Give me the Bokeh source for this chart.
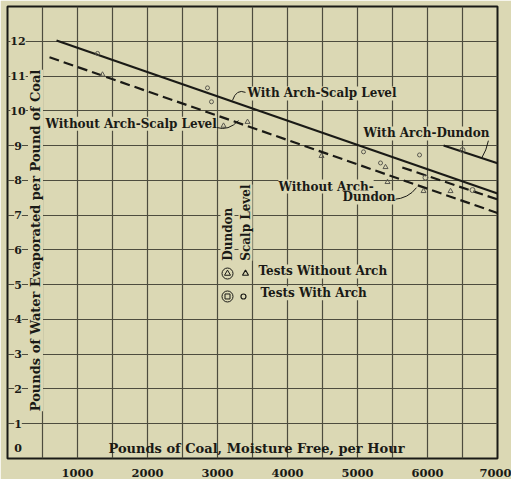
import numpy as np
from bokeh.plotting import figure
from bokeh.models import Label, FixedTicker, Range1d
from bokeh.embed import file_html
from bokeh.resources import INLINE

# --- data ---------------------------------------------------------------
x_ticks = [1000, 2000, 3000, 4000, 5000, 6000, 7000]
x_tick_labels = ["1000", "2000", "3000", "4000", "5000", "6000", "7000"]
y_ticks = [1, 2, 3, 4, 5, 6, 7, 8, 9, 10, 11, 12]

# fitted lines (coal per hour, water evaporated per pound of coal)
with_arch_scalp_x = [700, 7000]
with_arch_scalp_y = [12.02, 7.62]
without_arch_scalp_x = [600, 7000]
without_arch_scalp_y = [11.54, 7.06]
with_arch_dundon_x = [6230, 7000]
with_arch_dundon_y = [9.0, 8.49]
without_arch_dundon_x = [5640, 7000]
without_arch_dundon_y = [8.37, 7.45]

# individual tests
scalp_with_x = [1286, 2857, 2914, 5086, 5329, 5886]
scalp_with_y = [11.65, 10.66, 10.26, 8.82, 8.50, 8.73]
scalp_without_x = [1357, 3086, 3429, 4486, 5400, 5429]
scalp_without_y = [11.04, 9.57, 9.68, 8.70, 8.38, 7.95]
dundon_with_x = [5971, 6500, 6643]
dundon_with_y = [8.08, 8.87, 7.72]
dundon_without_x = [5943, 6329]
dundon_without_y = [7.69, 7.69]

# --- styling ------------------------------------------------------------
BG = "#dbd8b4"
INK = "#1a1a16"
GRID = "#4d4c3e"
FONT = "DejaVu Serif"

p = figure(width=511, height=479, output_backend="svg", toolbar_location=None,
           x_range=Range1d(0, 7000), y_range=Range1d(0, 13),
           min_border_left=7, min_border_right=14, min_border_top=6,
           min_border_bottom=21)
p.background_fill_color = BG
p.border_fill_color = BG
p.outline_line_color = INK
p.outline_line_width = 2

p.yaxis.visible = False
p.xaxis.axis_line_color = None
p.xaxis.major_tick_line_color = None
p.xaxis.minor_tick_line_color = None
p.xaxis.ticker = FixedTicker(ticks=x_ticks)
p.xaxis.major_label_overrides = dict(zip(x_ticks, x_tick_labels))
p.xaxis.major_label_text_font = FONT
p.xaxis.major_label_text_font_size = "11.5px"
p.xaxis.major_label_text_font_style = "bold"
p.xaxis.major_label_text_color = INK
p.xaxis.major_label_standoff = 4

p.xgrid.ticker = FixedTicker(ticks=list(range(500, 7000, 500)))
p.ygrid.ticker = FixedTicker(ticks=y_ticks)
for g in (p.xgrid, p.ygrid):
    g.grid_line_color = GRID
    g.grid_line_width = 1.2
    g.grid_line_alpha = 1.0

# --- lines --------------------------------------------------------------
p.line(with_arch_scalp_x, with_arch_scalp_y, line_color=INK, line_width=2.2)
p.line(with_arch_dundon_x, with_arch_dundon_y, line_color=INK, line_width=2.2)
p.line(without_arch_scalp_x, without_arch_scalp_y, line_color=INK,
       line_width=2.2, line_dash="10 5")
p.line(without_arch_dundon_x, without_arch_dundon_y, line_color=INK,
       line_width=2.2, line_dash="10 5")

# --- test points --------------------------------------------------------
MK = "#5a5950"
p.scatter(scalp_with_x, scalp_with_y, marker="circle", size=4,
          fill_color=None, line_color=MK, line_width=1)
p.scatter(scalp_without_x, scalp_without_y, marker="triangle", size=5,
          fill_color=None, line_color=MK, line_width=1)
p.scatter(dundon_with_x, dundon_with_y, marker="circle", size=5,
          fill_color=None, line_color=MK, line_width=1)
p.scatter(dundon_without_x, dundon_without_y, marker="triangle", size=5,
          fill_color=None, line_color=MK, line_width=1)

# --- text helper ----------------------------------------------------------
def put(x, y, text, size="12px", align="left", angle=0.0, bg=None):
    lab = Label(x=x, y=y, text=text, text_font=FONT, text_font_size=size,
                text_font_style="bold", text_color=INK, text_align=align,
                text_baseline="middle", angle=angle)
    if bg is not None:
        lab.background_fill_color = bg
    p.add_layout(lab)

# value labels on the left, inside the frame
for v in y_ticks:
    put(150, v, str(v), size="11px", align="center", bg=BG)
put(150, 0.3, "0", size="11px", align="center")

put(400, 6.27, "Pounds of Water Evaporated per Pound of Coal", size="13px",
    align="center", angle=np.pi / 2, bg=BG)
put(3557, 0.29, "Pounds of Coal, Moisture Free, per Hour", size="13px",
    align="center")

# --- line annotations ---------------------------------------------------
put(3429, 10.50, "With Arch-Scalp Level", bg=BG)
put(543, 9.63, "Without Arch-Scalp Level", bg=BG)
put(5086, 9.35, "With Arch-Dundon", bg=BG)
put(3871, 7.82, "Without Arch-", bg=BG)
put(4786, 7.51, "Dundon", bg=BG)

p.quadratic(x0=[3400, 2986, 6871, 5514], y0=[10.53, 9.52, 9.15, 7.45],
            x1=[3214, 3300, 6771, 5843], y1=[10.30, 9.72, 8.63, 7.79],
            cx=[3271, 3157, 6843, 5729], cy=[10.64, 9.41, 8.86, 7.48],
            line_color=INK, line_width=1)

# --- key ------------------------------------------------------------------
put(3143, 5.69, "Dundon", angle=np.pi / 2, bg=BG)
put(3400, 5.69, "Scalp Level", angle=np.pi / 2, bg=BG)
put(3586, 5.38, "Tests Without Arch", bg=BG)
put(3614, 4.75, "Tests With Arch", bg=BG)

p.scatter([3143, 3143], [5.32, 4.66], marker="circle", size=11,
          fill_color=BG, line_color=INK, line_width=1)
p.scatter([3143], [5.32], marker="triangle", size=6,
          fill_color=None, line_color=INK, line_width=1)
p.scatter([3143], [4.66], marker="square", size=5,
          fill_color=None, line_color=INK, line_width=1)
p.scatter([3400], [5.32], marker="triangle", size=6,
          fill_color=None, line_color=INK, line_width=1.2)
p.scatter([3371], [4.66], marker="circle", size=5,
          fill_color=None, line_color=INK, line_width=1.2)

open("out.html", "w").write(file_html(p, INLINE))
